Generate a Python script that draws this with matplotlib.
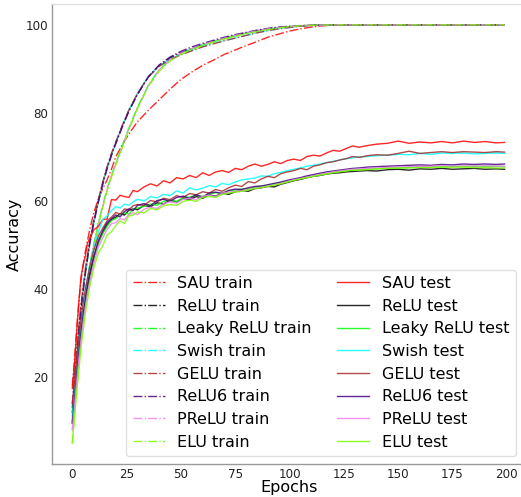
import matplotlib
matplotlib.use("Agg")
import matplotlib.pyplot as plt

# ---------------- data ----------------
train_epochs = [0, 1, 2, 3, 4, 5, 6, 8, 10, 12, 14, 16, 18, 20, 23, 26, 30, 35, 40, 45, 50,
                55, 60, 65, 70, 75, 80, 85, 90, 95, 100, 105, 110, 115, 120, 125, 150, 175, 199]

sau_train = [18, 24, 31, 37, 42, 45.5, 48.5, 53.5, 57.5, 60.5, 62.8, 64.8, 67.2, 70, 72.8, 75.2, 78,
             80.6, 83, 85.4, 87.6, 89.3, 90.8, 92, 93.3, 94.3, 95.3, 96.2, 97.2, 97.9, 98.6, 99.1,
             99.5, 99.8, 99.95, 100, 100, 100, 100]
relu_train = [13, 19, 25, 31, 36, 40, 44, 50.5, 55.5, 60, 64, 67.5, 70.5, 73.2, 77, 80.5, 84.3,
              88.2, 90.8, 92.5, 93.7, 94.6, 95.5, 96.3, 97, 97.6, 98.2, 98.7, 99.1, 99.4, 99.6,
              99.8, 99.9, 99.95, 100, 100, 100, 100, 100]
leaky_train = [10, 15, 20.5, 26, 31, 35, 39, 45.5, 50.5, 55, 59, 62.7, 65.8, 68.6, 72.5, 76.5, 81.3,
               86.3, 89.8, 92, 93.5, 94.5, 95.4, 96.2, 96.9, 97.5, 98.1, 98.6, 99.0, 99.3, 99.6,
               99.8, 99.9, 99.95, 100, 100, 100, 100, 100]
swish_train = [11, 17.5, 24, 30, 35, 39.5, 43.5, 50, 55.2, 59.8, 63.8, 67.4, 70.4, 73.1, 77, 80.6,
               84.5, 88.3, 90.7, 92.2, 93.3, 94.2, 95.1, 95.8, 96.4, 97.0, 97.6, 98.2, 98.7, 99.1,
               99.4, 99.7, 99.85, 99.95, 100, 100, 100, 100, 100]
gelu_train = [14, 20, 26, 31.5, 36.5, 40.5, 44.5, 51, 56, 60.3, 64.3, 67.8, 70.8, 73.4, 77.2, 80.6,
              84.4, 88.2, 90.6, 92.1, 93.2, 94.1, 95.0, 95.7, 96.4, 97.0, 97.6, 98.2, 98.7, 99.1,
              99.4, 99.7, 99.85, 99.95, 100, 100, 100, 100, 100]
relu6_train = [9.5, 16, 23, 29.5, 35, 39.5, 43.5, 50.2, 55.3, 59.8, 63.8, 67.3, 70.3, 73, 76.8,
               80.3, 84.2, 88.2, 90.9, 92.7, 94.0, 95.0, 95.8, 96.5, 97.2, 97.8, 98.3, 98.8, 99.2,
               99.5, 99.7, 99.85, 99.9, 99.95, 100, 100, 100, 100, 100]
prelu_train = [8, 13.5, 19.5, 25, 30, 34.5, 38.5, 45, 50.2, 54.8, 58.8, 62.5, 65.6, 68.4, 72.3,
               76.3, 81.1, 86.2, 89.8, 92.1, 93.6, 94.6, 95.5, 96.3, 97.0, 97.6, 98.2, 98.7, 99.1,
               99.4, 99.6, 99.8, 99.9, 99.95, 100, 100, 100, 100, 100]
elu_train = [5, 11, 17, 23, 28.5, 33, 37, 44, 49.5, 54.5, 58.5, 62.2, 65.4, 68.2, 72.1, 76.1, 81,
             86, 89.5, 91.8, 93.3, 94.4, 95.3, 96.1, 96.8, 97.4, 98.0, 98.5, 98.9, 99.3, 99.6,
             99.8, 99.9, 99.95, 100, 100, 100, 100, 100]

test_epochs = [0, 1, 2, 3, 4, 5, 6, 7, 8,
               10, 12, 14, 16, 18, 20, 22, 24, 26, 28, 30,
               33, 36, 39, 42, 45, 48, 51, 54, 57, 60, 63, 66, 69, 72, 75, 78, 81, 84, 87, 90,
               93, 96, 99, 102, 105, 108, 111, 114, 117, 120, 123, 126, 129, 132,
               136, 140, 145, 150, 155, 160, 165, 170, 175, 180, 185, 190, 195, 199]

sau_test = [17.4, 23, 30, 37, 42.8, 45.5, 47.5, 50.4, 51.5,
            53.5, 54.2, 55.8, 55.9, 60.3, 60.2, 61.3, 61.0, 60.8, 62.4, 62.1,
            63.2, 63.9, 63.4, 64.6, 64.1, 65.3, 65.0, 65.8, 65.3, 66.4, 65.8, 66.6, 66.9, 66.5,
            67.4, 67.1, 67.9, 68.4, 67.9, 68.3,
            68.9, 68.5, 69.2, 69.5, 69.2, 70.1, 70.4, 70.2, 70.9, 71.5, 71.3, 71.9, 72.5, 72.2,
            72.6, 72.9, 73.1, 73.6, 73.1, 73.4, 73.2, 73.5, 73.2, 73.6, 73.3, 73.5, 73.2, 73.3]
relu_test = [12, 16.5, 21.5, 26, 30.5, 34.5, 38, 41, 43.5,
             47.5, 50.5, 52.8, 54.6, 55.8, 56.3, 57.1, 56.8, 57.9, 58.2, 58.0,
             59.0, 58.7, 59.6, 59.3, 60.2, 59.8, 60.6, 60.3, 61.0, 60.6, 61.4, 61.1, 61.8, 61.5,
             62.1, 62.4, 62.2, 62.8, 63.0, 63.3,
             63.2, 63.8, 64.2, 64.6, 64.9, 65.3, 65.6, 65.8, 66.1, 66.3, 66.4, 66.6, 66.7, 66.8,
             66.9, 66.8, 67.1, 67.2, 67.0, 67.3, 67.2, 67.4, 67.2, 67.3, 67.4, 67.2, 67.3, 67.2]
leaky_test = [10, 15, 20, 25, 29.5, 33.5, 37, 40, 42.5,
              47, 50.5, 52.6, 54.2, 55.6, 56.0, 56.9, 57.3, 57.0, 58.1, 58.4,
              58.8, 59.3, 59.0, 59.9, 60.2, 59.9, 60.7, 60.9, 61.3, 61.0, 61.6, 61.9, 61.7, 62.3,
              62.5, 62.7, 62.8, 63.1, 63.4, 63.5,
              63.9, 64.1, 64.4, 64.8, 65.1, 65.4, 65.7, 65.9, 66.2, 66.5, 66.7, 66.9, 67.0, 67.1,
              67.3, 67.3, 67.5, 67.5, 67.6, 67.8, 67.7, 67.8, 67.9, 67.8, 67.9, 67.8, 67.9, 67.8]
swish_test = [11, 17, 22.5, 27.5, 32, 36, 39.5, 42.5, 45,
              49.5, 53, 55.8, 56.6, 57.8, 58.7, 58.4, 59.3, 59.0, 59.8, 60.4,
              60.0, 61.0, 60.7, 61.5, 61.2, 62.3, 61.8, 63.0, 62.5, 62.9, 63.5, 63.2, 64.0, 63.7,
              64.3, 64.8, 65.0, 65.2, 65.7, 65.6,
              66.2, 66.5, 66.9, 67.2, 67.5, 67.9, 68.1, 68.4, 68.7, 69.0, 69.3, 69.6, 69.8, 70.0,
              70.1, 70.3, 70.4, 70.6, 70.5, 70.8, 70.6, 70.9, 70.8, 70.9, 70.7, 70.8, 70.9, 70.8]
gelu_test = [14, 19, 24, 28.5, 33, 37, 40, 42.5, 45,
             49, 52, 53.8, 55.5, 56.3, 57.4, 57.0, 58.2, 58.0, 58.9, 59.2,
             59.0, 60.1, 59.8, 60.6, 60.3, 61.2, 60.8, 61.7, 61.4, 62.1, 61.8, 62.6, 62.2, 63.0,
             63.6, 63.3, 64.4, 64.1, 65.0, 65.6,
             65.3, 66.2, 66.6, 66.9, 67.4, 67.1, 67.9, 68.2, 68.7, 68.9, 69.3, 69.6, 70.1, 69.9,
             70.3, 70.5, 70.4, 70.8, 71.3, 70.8, 71.0, 71.2, 71.0, 71.2, 71.1, 71.0, 71.2, 71.1]
relu6_test = [9.5, 15, 20.5, 25.5, 30, 34, 37.5, 40.5, 43,
              47.5, 51, 53.2, 55.1, 55.9, 56.8, 56.4, 57.6, 58.2, 57.8, 59.0,
              59.4, 58.9, 60.1, 60.4, 59.9, 60.8, 61.1, 60.6, 61.4, 60.9, 61.8, 62.0, 61.7, 62.4,
              62.7, 62.6, 63.0, 63.3, 63.4, 63.7,
              64.0, 64.3, 64.7, 65.0, 65.3, 65.7, 66.0, 66.3, 66.6, 66.8, 67.0, 67.2, 67.4, 67.5,
              67.7, 67.8, 67.9, 68.0, 68.1, 68.2, 68.1, 68.3, 68.2, 68.4, 68.3, 68.4, 68.3, 68.4]
prelu_test = [8, 13.5, 19, 24, 28.5, 32.5, 36, 39, 41.5,
              46, 49.5, 51.6, 53.5, 54.8, 55.1, 56.0, 55.7, 56.9, 57.3, 56.9,
              58.1, 58.6, 58.3, 59.4, 59.8, 59.5, 60.4, 60.6, 60.3, 61.1, 61.3, 61.0, 61.8, 62.0,
              62.2, 62.3, 62.6, 62.9, 63.1, 63.4,
              63.7, 64.0, 64.4, 64.8, 65.1, 65.4, 65.7, 66.0, 66.3, 66.6, 66.8, 67.0, 67.2, 67.3,
              67.4, 67.5, 67.6, 67.7, 67.8, 67.8, 67.9, 68.0, 67.9, 68.0, 67.9, 68.0, 67.9, 67.9]
elu_test = [5, 11, 16.5, 21.5, 26.5, 30.5, 34.5, 37.5, 40.5,
            45, 48.2, 49.8, 52.3, 53.0, 54.4, 55.5, 54.9, 56.6, 56.8, 57.5,
            57.3, 58.3, 58.0, 58.9, 59.2, 59.0, 59.9, 60.2, 59.9, 60.8, 61.0, 60.8, 61.5, 61.8,
            62.0, 62.2, 62.5, 62.8, 63.0, 63.3,
            63.6, 63.9, 64.3, 64.7, 65.0, 65.3, 65.6, 65.9, 66.1, 66.4, 66.6, 66.8, 67.0, 67.0,
            67.1, 67.3, 67.4, 67.5, 67.5, 67.6, 67.6, 67.7, 67.6, 67.7, 67.6, 67.6, 67.5, 67.5]

names = ["SAU", "ReLU", "Leaky ReLU", "Swish", "GELU", "ReLU6", "PReLU", "ELU"]
colors = ["red", "black", "lime", "cyan", "brown", "indigo", "violet", "lawngreen"]
train_series = [sau_train, relu_train, leaky_train, swish_train, gelu_train, relu6_train,
                prelu_train, elu_train]
test_series = [sau_test, relu_test, leaky_test, swish_test, gelu_test, relu6_test,
               prelu_test, elu_test]

# ---------------- plot ----------------
fig = plt.figure(figsize=(5.21, 4.97), dpi=100)
ax = fig.add_axes([0.0992, 0.0664, 0.9127, 0.9256])

for name, c, ys in zip(names, colors, train_series):
    ax.plot(train_epochs, ys, linestyle="-.", color=c, lw=1.0, alpha=0.85, label=f"{name} train")
for name, c, ys in zip(names, colors, test_series):
    ax.plot(test_epochs, ys, linestyle="-", color=c, lw=1.0, alpha=0.85, label=f"{name} test")

ax.set_xlim(-9.5, 209.4)
ax.set_ylim(0.25, 104.75)
ax.set_xticks([0, 25, 50, 75, 100, 125, 150, 175, 200])
ax.set_yticks([20, 40, 60, 80, 100])
ax.tick_params(axis="both", length=0, labelsize=8.6, colors="#222222")
ax.tick_params(axis="y", pad=2.5)
ax.tick_params(axis="x", pad=3)

ax.set_xlabel("Epochs", fontsize=11.5)
ax.set_ylabel("Accuracy", fontsize=11.5)
ax.xaxis.set_label_coords(0.5, -0.052)
ax.yaxis.set_label_coords(-0.079, 0.5)
ax.xaxis.label.set_va("center")
ax.yaxis.label.set_va("center")

for s in ["left", "bottom"]:
    ax.spines[s].set_color("#999999")
    ax.spines[s].set_linewidth(1.0)
ax.spines["top"].set_color("#dddddd")
ax.spines["right"].set_visible(False)

leg = ax.legend(ncol=2, fontsize=11.5, loc="lower right",
                bbox_to_anchor=(516 / 521, 41 / 497), bbox_transform=fig.transFigure,
                borderaxespad=0, handlelength=2.0, handletextpad=0.8, columnspacing=1.6,
                labelspacing=0.48, frameon=True, framealpha=0.8, edgecolor="0.85")

fig.savefig("out.png", dpi=100)
